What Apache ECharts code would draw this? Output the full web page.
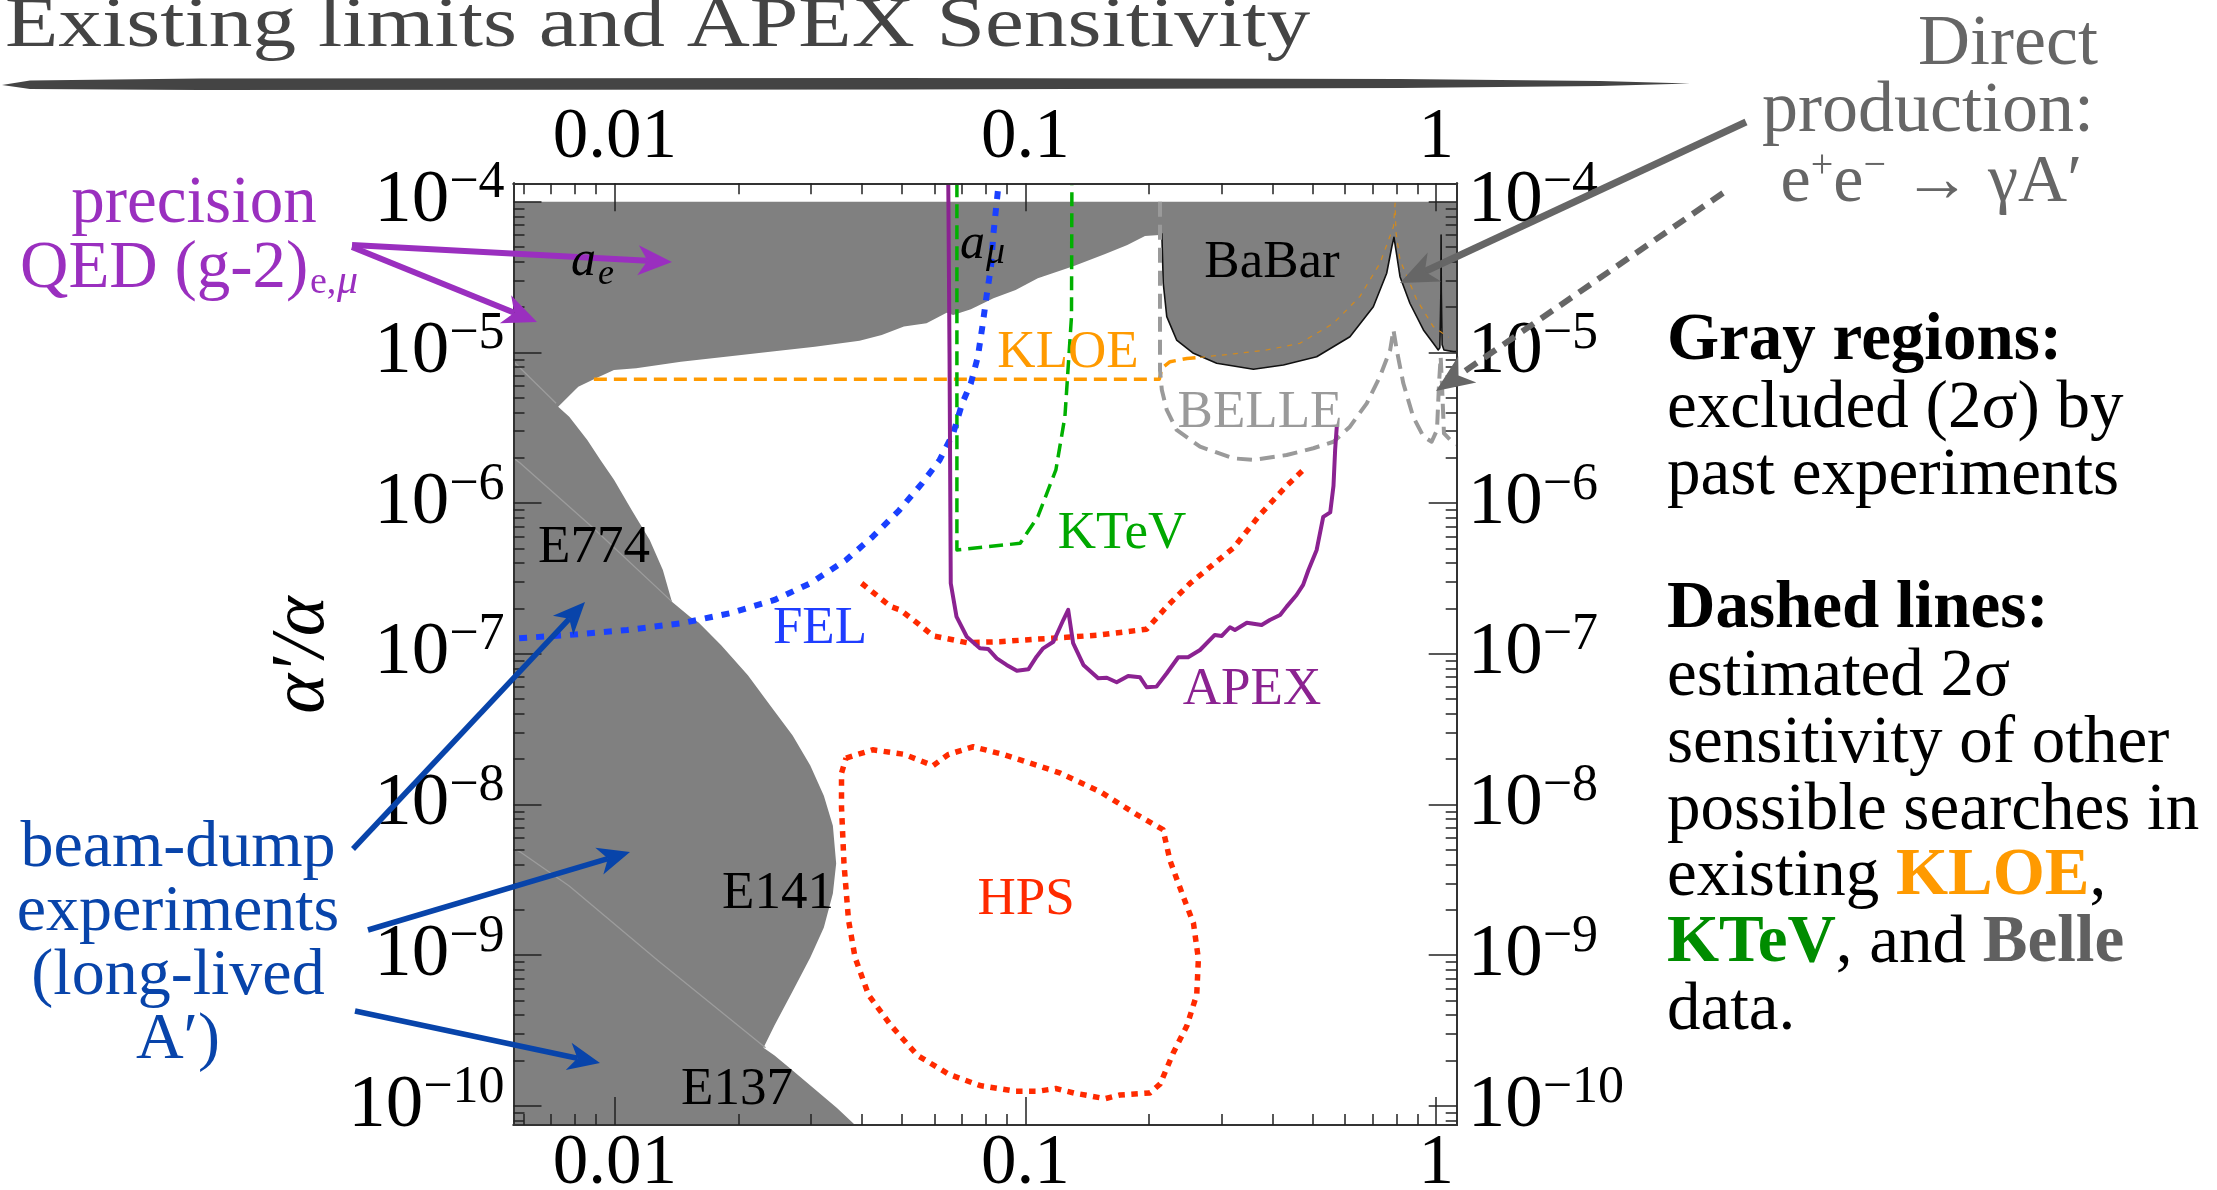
<!DOCTYPE html>
<html>
<head>
<meta charset="utf-8">
<script src="https://cdn.jsdelivr.net/npm/echarts@6.0.0/dist/echarts.min.js"></script>
<style>
  html, body { margin: 0; padding: 0; background: #fff; }
  #chart { width: 2217px; height: 1190px; }
</style>
</head>
<body>
<div id="chart"></div>
<script>
// all curve points are [log10(mass / GeV), log10(alpha'/alpha)]
const X_MIN = -2.2467, X_MAX = 0.05;
const Y_MIN = -10.127, Y_MAX = -3.878;

// tick labels
const xLabelVals = [0.01, 0.1, 1];
const xLabelText = ['0.01', '0.1', '1'];
const xMinorVals = [0.006, 0.007, 0.008, 0.009,
  0.02, 0.03, 0.04, 0.05, 0.06, 0.07, 0.08, 0.09,
  0.2, 0.3, 0.4, 0.5, 0.6, 0.7, 0.8, 0.9];
const yLabelExp = [-4, -5, -6, -7, -8, -9, -10];
const yMinorVals = [8e-11, 9e-11,
  2e-10, 3e-10, 4e-10, 5e-10, 6e-10, 7e-10, 8e-10, 9e-10,
  2e-9, 3e-9, 4e-9, 5e-9, 6e-9, 7e-9, 8e-9, 9e-9,
  2e-8, 3e-8, 4e-8, 5e-8, 6e-8, 7e-8, 8e-8, 9e-8,
  2e-7, 3e-7, 4e-7, 5e-7, 6e-7, 7e-7, 8e-7, 9e-7,
  2e-6, 3e-6, 4e-6, 5e-6, 6e-6, 7e-6, 8e-6, 9e-6,
  2e-5, 3e-5, 4e-5, 5e-5, 6e-5, 7e-5, 8e-5, 9e-5];

// gray excluded region, pieces of its outline
const grayTop = [[X_MIN, -4], [X_MAX, -4]];
const babarEdge = [[0.05, -4.995], [0.042, -4.995], [0.019, -4.984], [0.0145, -4.95], [0.0125, -4.6],
  [0.012, -4.221], [0.0115, -4.6], [0.009, -4.97], [0.005, -4.984], [-0.007, -4.94], [-0.031, -4.851],
  [-0.064, -4.674], [-0.088, -4.498], [-0.098, -4.32], [-0.1027, -4.236], [-0.108, -4.299],
  [-0.1205, -4.475], [-0.153, -4.697], [-0.21, -4.896], [-0.291, -5.029], [-0.372, -5.084],
  [-0.445, -5.112], [-0.5345, -5.072], [-0.591, -5.006], [-0.632, -4.918], [-0.656, -4.763],
  [-0.6645, -4.541], [-0.668, -4.21]];
const g2Edge = [[-0.674, -4.221], [-0.709, -4.228], [-0.752, -4.287], [-0.806, -4.347], [-0.882, -4.427],
  [-0.970, -4.508], [-1.024, -4.586], [-1.078, -4.641], [-1.133, -4.714], [-1.176, -4.752],
  [-1.192, -4.737], [-1.241, -4.807], [-1.296, -4.829], [-1.350, -4.885], [-1.404, -4.922],
  [-1.513, -4.962], [-1.622, -4.995], [-1.730, -5.029], [-1.839, -5.062], [-1.948, -5.106],
  [-2.002, -5.117], [-2.046, -5.172], [-2.089, -5.228], [-2.138, -5.360]];
const beamDumpEdge = [[-2.111, -5.427], [-2.067, -5.581], [-2.035, -5.714], [-2.002, -5.846],
  [-1.959, -6.046], [-1.915, -6.245], [-1.883, -6.444], [-1.861, -6.654], [-1.817, -6.754],
  [-1.796, -6.793], [-1.741, -6.943], [-1.676, -7.143], [-1.622, -7.342], [-1.567, -7.542],
  [-1.524, -7.742], [-1.491, -7.942], [-1.469, -8.141], [-1.461, -8.391], [-1.469, -8.591],
  [-1.491, -8.816], [-1.524, -9.015], [-1.567, -9.240], [-1.611, -9.465], [-1.638, -9.615],
  [-1.611, -9.665], [-1.567, -9.765], [-1.513, -9.890], [-1.459, -10.015], [-1.415, -10.127],
  [X_MIN, -10.127]];

// faint borders between the beam-dump experiments
const e774Border = [[-2.2467, -5.06], [-2.143, -5.338]];
const e141Border = [[-2.2467, -5.70], [-2.230, -5.736], [-2.056, -6.157], [-1.861, -6.654]];
const e137Border = [[-2.2467, -8.29], [-2.230, -8.316], [-2.111, -8.541], [-1.893, -9.041], [-1.633, -9.615]];

const kloe = [[-2.051, -5.178], [-0.674, -5.178], [-0.668, -5.106], [-0.648, -5.062], [-0.607, -5.04], [-0.575, -5.033]];
const kloeInGray = [[-0.575, -5.033], [-0.494, -5.01], [-0.413, -4.984], [-0.332, -4.94], [-0.25, -4.807],
  [-0.186, -4.63], [-0.137, -4.409], [-0.104, -4.166], [-0.10, -4.01], [-0.098, -4.2], [-0.088, -4.387],
  [-0.047, -4.652], [-0.007, -4.829], [0.03, -4.9]];
const belle = [[-0.6725, -4], [-0.6725, -5.117], [-0.668, -5.25], [-0.656, -5.382], [-0.632, -5.515],
  [-0.575, -5.626], [-0.494, -5.703], [-0.445, -5.714], [-0.364, -5.681], [-0.299, -5.636],
  [-0.25, -5.593], [-0.21, -5.493], [-0.169, -5.338], [-0.137, -5.161], [-0.112, -4.984],
  [-0.104, -4.851], [-0.096, -4.984], [-0.080, -5.205], [-0.056, -5.427], [-0.031, -5.559],
  [-0.011, -5.593], [0.002, -5.515], [0.007, -5.205], [0.011, -5.029], [0.014, -5.205],
  [0.019, -5.537], [0.042, -5.603], [0.05, -5.61]];
const ktev = [[-1.167, -3.878], [-1.167, -6.311], [-1.013, -6.267], [-0.970, -6.09], [-0.926, -5.780],
  [-0.904, -5.427], [-0.896, -5.095], [-0.888, -4.763], [-0.887, -3.878]];
const fel = [[-2.233, -6.897], [-2.111, -6.875], [-1.970, -6.842], [-1.839, -6.798], [-1.720, -6.731],
  [-1.611, -6.643], [-1.524, -6.532], [-1.437, -6.378], [-1.372, -6.223], [-1.307, -6.046],
  [-1.252, -5.869], [-1.209, -5.714], [-1.176, -5.537], [-1.154, -5.338], [-1.133, -5.205],
  [-1.116, -5.029], [-1.105, -4.829], [-1.095, -4.630], [-1.084, -4.431], [-1.078, -4.210],
  [-1.067, -3.922]];
const apex = [[-1.188, -3.878], [-1.185, -5.0], [-1.182, -6.532], [-1.168, -6.754], [-1.143, -6.887],
  [-1.111, -6.963], [-1.091, -6.968], [-1.070, -7.030], [-1.046, -7.074], [-1.021, -7.112],
  [-0.993, -7.103], [-0.973, -7.019], [-0.957, -6.964], [-0.932, -6.920], [-0.908, -6.776],
  [-0.896, -6.709], [-0.884, -6.930], [-0.859, -7.074], [-0.823, -7.163], [-0.802, -7.159],
  [-0.778, -7.189], [-0.750, -7.147], [-0.721, -7.156], [-0.705, -7.222], [-0.681, -7.218],
  [-0.656, -7.129], [-0.628, -7.023], [-0.604, -7.023], [-0.575, -6.975], [-0.539, -6.875],
  [-0.522, -6.882], [-0.502, -6.824], [-0.490, -6.842], [-0.461, -6.794], [-0.425, -6.809],
  [-0.405, -6.776], [-0.380, -6.743], [-0.364, -6.687], [-0.340, -6.610], [-0.324, -6.543],
  [-0.311, -6.444], [-0.291, -6.311], [-0.275, -6.092], [-0.258, -6.062], [-0.250, -5.885],
  [-0.246, -5.646], [-0.242, -5.493]];
const apexRun = [[-1.399, -6.532], [-1.328, -6.687], [-1.305, -6.709], [-1.273, -6.776], [-1.224, -6.882],
  [-1.143, -6.926], [-1.062, -6.920], [-0.981, -6.904], [-0.900, -6.891], [-0.819, -6.875],
  [-0.705, -6.837], [-0.681, -6.764], [-0.656, -6.687], [-0.599, -6.532], [-0.518, -6.351],
  [-0.494, -6.299], [-0.429, -6.077], [-0.364, -5.885], [-0.324, -5.781]];
const hps = [[-1.437, -7.692], [-1.372, -7.637], [-1.296, -7.667], [-1.225, -7.742], [-1.187, -7.667],
  [-1.127, -7.617], [-1.056, -7.667], [-0.970, -7.742], [-0.915, -7.792], [-0.817, -7.917],
  [-0.730, -8.066], [-0.665, -8.167], [-0.648, -8.373], [-0.616, -8.610], [-0.591, -8.788],
  [-0.579, -9.025], [-0.583, -9.261], [-0.607, -9.469], [-0.640, -9.647], [-0.672, -9.854],
  [-0.697, -9.914], [-0.770, -9.928], [-0.806, -9.952], [-0.882, -9.915], [-0.926, -9.885],
  [-0.970, -9.903], [-1.024, -9.903], [-1.111, -9.865], [-1.187, -9.790], [-1.263, -9.665],
  [-1.328, -9.465], [-1.382, -9.265], [-1.415, -9.015], [-1.431, -8.766], [-1.442, -8.391],
  [-1.448, -8.017], [-1.448, -7.792], [-1.437, -7.692]];

const grayRegion = grayTop.concat(babarEdge, g2Edge, beamDumpEdge);

const SERIF = '"Liberation Serif", "Times New Roman", "DejaVu Serif", serif';
const chart = echarts.init(document.getElementById('chart'));

function log10s(arr) { return arr.map(v => Math.log10(v)); }

function xAxisDef(pos, major, withLabels) {
  return {
    type: 'value', position: pos, min: X_MIN, max: X_MAX, z: 10,
    axisLine: { show: true, onZero: false, lineStyle: { color: '#333', width: 2 } },
    axisTick: {
      show: true, inside: true, length: major ? 28 : 11,
      customValues: major ? log10s(xLabelVals) : log10s(xMinorVals),
      lineStyle: { color: '#222', width: 1.5 }
    },
    axisLabel: withLabels ? {
      show: true, customValues: log10s(xLabelVals), margin: pos === 'top' ? 9 : 4,
      fontSize: 71, fontFamily: SERIF, color: '#000',
      formatter: v => xLabelText[xLabelVals.findIndex(t => Math.abs(Math.log10(t) - v) < 1e-6)]
    } : { show: false },
    splitLine: { show: false }
  };
}

function yAxisDef(pos, major, withLabels) {
  return {
    type: 'value', position: pos, min: Y_MIN, max: Y_MAX, z: 10,
    axisLine: { show: true, onZero: false, lineStyle: { color: '#333', width: 2 } },
    axisTick: {
      show: true, inside: true, length: major ? 28 : 11,
      customValues: major ? yLabelExp : log10s(yMinorVals),
      lineStyle: { color: '#222', width: 1.5 }
    },
    axisLabel: withLabels ? {
      show: true, customValues: yLabelExp, margin: pos === 'left' ? 9 : 11,
      formatter: v => '{b|10}{s|\u2212' + Math.round(-v) + '}',
      rich: {
        b: { fontSize: 75, fontFamily: SERIF, color: '#000', lineHeight: 88 },
        s: { fontSize: 52, fontFamily: SERIF, color: '#000', lineHeight: 50, verticalAlign: 'top' }
      }
    } : { show: false },
    splitLine: { show: false }
  };
}

function ln(name, data, color, width, type, z) {
  return {
    type: 'line', name: name, data: data, xAxisIndex: 0, yAxisIndex: 0,
    showSymbol: false, symbol: 'none', silent: true, z: z || 3,
    lineStyle: { color: color, width: width, type: type, cap: 'butt', join: 'round' }
  };
}

// text whose baseline sits at `base`
function T(text, x, base, size, color, o) {
  o = o || {};
  const st = {
    text: text, x: 0, y: 0, fontSize: size, fontFamily: SERIF,
    fontWeight: o.bold ? 'bold' : 'normal', fontStyle: o.italic ? 'italic' : 'normal',
    fill: color, align: o.align || 'left', textAlign: o.align || 'left',
    verticalAlign: 'middle', textVerticalAlign: 'middle'
  };
  if (o.rich) st.rich = o.rich;
  return { type: 'text', z: 100, x: x, y: base - 0.27 * size, rotation: o.rot || 0,
    scaleX: o.scaleX || 1, style: st };
}

function rs(size, fill, extra) {
  return Object.assign({ fontSize: size, fontFamily: SERIF, fill: fill }, extra || {});
}

function arrow(x1, y1, x2, y2, color, w, hl, hw, dash) {
  const dx = x2 - x1, dy = y2 - y1, L = Math.hypot(dx, dy), ux = dx / L, uy = dy / L;
  const bx = x2 - ux * hl, by = y2 - uy * hl;
  const nx = x2 - ux * hl * 0.72, ny = y2 - uy * hl * 0.72;
  return [
    { type: 'line', z: 90, shape: { x1: x1, y1: y1, x2: nx, y2: ny },
      style: { stroke: color, lineWidth: w, lineDash: dash || null } },
    { type: 'polygon', z: 91, shape: { points: [[x2, y2], [bx - uy * hw, by + ux * hw], [nx, ny], [bx + uy * hw, by - ux * hw]] },
      style: { fill: color } }
  ];
}

const PURPLE = '#9a2fbf', BLUE = '#0844aa', GREYTXT = '#666666';
const inSize = 53, noteSize = 67;
const noteBase = [360, 427, 494, 628, 695, 762, 829, 895, 962, 1029];

const graphics = [
  // title and brush-stroke underline
  T('Existing limits and APEX Sensitivity', 5, 47, 71, '#444', { scaleX: 1.23 }),
  { type: 'polygon', z: 100, shape: { points: [[2, 85], [30, 80.5], [200, 78.5], [900, 78], [1400, 79], [1600, 81],
    [1690, 83.5], [1600, 86], [1400, 88], [900, 89.5], [200, 90], [30, 89]] }, style: { fill: '#444' } },

  // y axis title
  T('\u03b1\u2032/\u03b1', 303, 655 + 0.27 * 76, 76, '#000', { italic: true, align: 'center', rot: Math.PI / 2 }),

  // precision QED
  T('precision', 194, 222, 67, PURPLE, { align: 'center' }),
  T('QED (g-2)', 20, 287, 67, PURPLE),
  T('e,', 310, 293, 38, PURPLE),
  T('\u03bc', 337, 293, 42, PURPLE, { italic: true }),

  // beam-dump
  T('beam-dump', 178, 866, 66, BLUE, { align: 'center' }),
  T('experiments', 178, 930, 66, BLUE, { align: 'center' }),
  T('(long-lived', 178, 994, 66, BLUE, { align: 'center' }),
  T('A\u2032)', 178, 1058, 66, BLUE, { align: 'center' }),

  // direct production
  T('Direct', 2098, 65, 72, GREYTXT, { align: 'right' }),
  T('production:', 2094, 132, 72, GREYTXT, { align: 'right' }),
  T('{n|e}{p|+}{n|e}{p|\u2212}{n| \u2192 \u03b3A\u2032}', 2082, 202, 68, GREYTXT, { align: 'right', rich: {
    n: rs(68, GREYTXT, { lineHeight: 74 }),
    p: rs(40, GREYTXT, { lineHeight: 32, verticalAlign: 'top' }) } }),

  // right-hand notes
  T('Gray regions:', 1667, noteBase[0], noteSize, '#000', { bold: true }),
  T('excluded (2\u03c3) by', 1667, noteBase[1], noteSize, '#000'),
  T('past experiments', 1667, noteBase[2], noteSize, '#000'),
  T('Dashed lines:', 1667, noteBase[3], noteSize, '#000', { bold: true }),
  T('estimated 2\u03c3', 1667, noteBase[4], noteSize, '#000'),
  T('sensitivity of other', 1667, noteBase[5], noteSize, '#000'),
  T('possible searches in', 1667, noteBase[6], noteSize, '#000'),
  T('{n|existing }{o|KLOE}{n|,}', 1667, noteBase[7], noteSize, '#000', { rich: {
    n: rs(noteSize, '#000'),
    o: rs(noteSize, '#ff9a00', { fontWeight: 'bold' }) } }),
  T('{g|KTeV}{n|, and }{y|Belle}', 1667, noteBase[8], noteSize, '#000', { rich: {
    n: rs(noteSize, '#000'),
    g: rs(noteSize, '#008c00', { fontWeight: 'bold' }),
    y: rs(noteSize, '#606060', { fontWeight: 'bold' }) } }),
  T('data.', 1667, noteBase[9], noteSize, '#000'),

  // labels inside the plot
  T('a', 571, 275, 50, '#000', { italic: true }),
  T('e', 598, 284, 36, '#000', { italic: true }),
  T('a', 960, 258, 50, '#000', { italic: true }),
  T('\u03bc', 986, 263, 38, '#000', { italic: true }),
  T('BaBar', 1272, 277, inSize, '#000', { align: 'center' }),
  T('KLOE', 1068, 367, inSize, '#ff9a00', { align: 'center' }),
  T('BELLE', 1260, 427, inSize, '#9a9a9a', { align: 'center' }),
  T('KTeV', 1122, 548, inSize, '#00a800', { align: 'center' }),
  T('FEL', 820, 643, inSize, '#1f3dff', { align: 'center' }),
  T('APEX', 1252, 704, inSize, '#8b2291', { align: 'center' }),
  T('E774', 594, 562, inSize, '#000', { align: 'center' }),
  T('E141', 778, 908, inSize, '#000', { align: 'center' }),
  T('E137', 737, 1104, inSize, '#000', { align: 'center' }),
  T('HPS', 1026, 914, inSize, '#ff2a00', { align: 'center' })
].concat(
  arrow(352, 245, 672, 262, PURPLE, 6, 34, 15),
  arrow(352, 247, 537, 322, PURPLE, 6, 34, 15),
  arrow(353, 849, 585, 602, BLUE, 5.5, 32, 14),
  arrow(368, 930, 630, 852, BLUE, 5.5, 32, 14),
  arrow(355, 1011, 600, 1063, BLUE, 5.5, 32, 14),
  arrow(1746, 122, 1400, 283, GREYTXT, 7, 38, 16),
  arrow(1723, 193, 1436, 391, GREYTXT, 6, 38, 16, [14, 9])
);

chart.setOption({
  animation: false,
  backgroundColor: '#fff',
  grid: { left: 513.5, right: 760.3, top: 183.3, bottom: 65, containLabel: false, outerBoundsMode: 'none' },
  xAxis: [
    xAxisDef('bottom', true, true),
    xAxisDef('bottom', false, false),
    xAxisDef('top', true, true),
    xAxisDef('top', false, false)
  ],
  yAxis: [
    yAxisDef('left', true, true),
    yAxisDef('left', false, false),
    yAxisDef('right', true, true),
    yAxisDef('right', false, false)
  ],
  series: [
    {
      type: 'custom', name: 'excluded', coordinateSystem: 'cartesian2d', xAxisIndex: 0, yAxisIndex: 0,
      data: grayRegion, z: 1, silent: true,
      renderItem: function (params, api) {
        if (params.dataIndex !== 0) return null;
        return { type: 'polygon', shape: { points: grayRegion.map(p => api.coord(p)) }, style: { fill: '#808080' } };
      }
    },
    ln('E774 border', e774Border, '#9c9c9c', 1.3, 'solid', 2),
    ln('E141 border', e141Border, '#9c9c9c', 1.3, 'solid', 2),
    ln('E137 border', e137Border, '#9c9c9c', 1.3, 'solid', 2),
    ln('BaBar edge', babarEdge, '#111', 1.6, 'solid', 2),
    ln('KLOE (in gray)', kloeInGray, '#d08a20', 1.2, [5, 6], 2),
    ln('KLOE', kloe, '#ff9a00', 3.5, [13, 7]),
    ln('BELLE', belle, '#9a9a9a', 4, [15, 8]),
    ln('KTeV', ktev, '#00b000', 3.5, [14, 7]),
    ln('FEL', fel, '#1a40ff', 6, [8, 9]),
    ln('APEX run', apexRun, '#ff2a00', 5.5, [6.5, 6.5]),
    ln('HPS', hps, '#ff2a00', 5.5, [6.5, 6.5]),
    ln('APEX', apex, '#8b2291', 4, 'solid', 4)
  ],
  graphic: { elements: graphics }
});
</script>
</body>
</html>
